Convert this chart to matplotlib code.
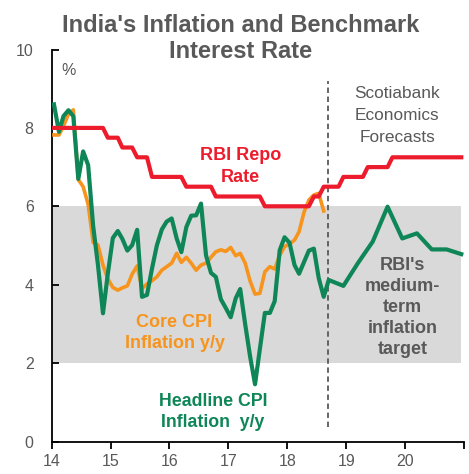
import pandas as pd
import matplotlib
matplotlib.use('Agg')
import matplotlib.pyplot as plt
import matplotlib.dates as mdates

plt.rcParams['font.family'] = ['Liberation Sans', 'DejaVu Sans']

#%% data

# monthly actuals Jan 2014 - Aug 2018, plotted mid-month
months = pd.date_range('2014-01-01', '2018-08-01', freq='MS') + pd.Timedelta(days=14)
# repo rate incl. forecast, monthly to Dec 2020
repo_months = pd.date_range('2014-01-01', '2020-12-01', freq='MS') + pd.Timedelta(days=14)
# quarterly headline forecast Sep 2018 - Dec 2020
fcst_quarters = pd.date_range('2018-09-01', '2020-12-01', freq='3MS') + pd.Timedelta(days=14)
forecast_start = pd.Timestamp('2018-09-10')

headline = [8.6, 7.9, 8.3, 8.45, 8.3, 6.7, 7.4, 7.05, 5.5, 4.5,
            3.27, 4.28, 5.19, 5.37, 5.17, 4.87, 5.01, 5.40, 3.69, 3.74,
            4.41, 5.0, 5.41, 5.61, 5.69, 5.18, 4.83, 5.47, 5.76, 5.77,
            6.07, 4.75, 4.3, 4.2, 3.63, 3.41, 3.17, 3.65, 3.89, 2.99,
            2.18, 1.46, 2.36, 3.28, 3.28, 3.58, 4.88, 5.21, 5.07, 4.5,
            4.28, 4.58, 4.87, 4.92, 4.17, 3.69]
headline_fcst = [4.12, 3.97, 4.55, 5.1, 5.99, 5.18, 5.31, 4.9, 4.9, 4.78]

core = [7.82, 7.82, 8.05, 8.35, 8.46, 6.68, 6.5, 6.05, 5.08, 5.01,
        4.5, 4.15, 3.93, 3.86, 3.92, 3.97, 4.27, 4.48, 3.9, 4.02,
        4.1, 4.2, 4.37, 4.46, 4.55, 4.8, 4.57, 4.7, 4.55, 4.37,
        4.5, 4.55, 4.7, 4.84, 4.89, 4.85, 4.95, 4.74, 4.8, 4.55,
        4.1, 3.76, 3.78, 4.33, 4.46, 4.4, 4.75, 4.97, 5.04, 5.14,
        5.35, 5.85, 6.16, 6.29, 6.33, 5.88]

repo = [8.0, 8.0, 8.0, 8.0, 8.0, 8.0, 8.0, 8.0, 8.0, 8.0,
        8.0, 7.75, 7.75, 7.75, 7.5, 7.5, 7.5, 7.25, 7.25, 7.25,
        6.75, 6.75, 6.75, 6.75, 6.75, 6.75, 6.75, 6.5, 6.5, 6.5,
        6.5, 6.5, 6.5, 6.25, 6.25, 6.25, 6.25, 6.25, 6.25, 6.25,
        6.25, 6.25, 6.25, 6.0, 6.0, 6.0, 6.0, 6.0, 6.0, 6.0,
        6.0, 6.0, 6.0, 6.25, 6.25, 6.5, 6.5, 6.5, 6.5, 6.75,
        6.75, 6.75, 6.75, 6.75, 7.0, 7.0, 7.0, 7.0, 7.0, 7.25,
        7.25, 7.25, 7.25, 7.25, 7.25, 7.25, 7.25, 7.25, 7.25, 7.25,
        7.25, 7.25, 7.25, 7.25]

target_lo, target_hi = 2, 6
target_span = [pd.Timestamp('2014-01-05'), pd.Timestamp('2020-12-15')]

year_ticks = pd.date_range('2014-01-01', '2021-01-01', freq='YS')
year_labels = ['14', '15', '16', '17', '18', '19', '20', '']

#%% plot

RED = '#EC1C2D'
ORANGE = '#F7941D'
GREEN = '#0F8657'
GREY = '#595959'

W, H = 469, 474
fig = plt.figure(figsize=(W / 100, H / 100), dpi=100)
ax = fig.add_axes([51.7 / W, 1 - 441.5 / H, 412.3 / W, 392 / H])

ax.fill_between(target_span, target_lo, target_hi, color='#D9D9D9', lw=0, zorder=1)
ax.vlines(forecast_start, 0.38, 9.2, colors=GREY, lw=1.3, linestyles=(0, (3, 2)), zorder=2)

ax.plot(months, core, color=ORANGE, lw=2.6, zorder=3, solid_joinstyle='round')
ax.plot(list(months) + list(fcst_quarters), headline + headline_fcst,
        color=GREEN, lw=3.0, zorder=4, solid_joinstyle='round')
ax.plot(repo_months, repo, color=RED, lw=3.0, zorder=5, solid_joinstyle='round')

ax.set_ylim(0, 10)
ax.set_xlim(pd.Timestamp('2014-01-01'), pd.Timestamp('2021-01-01'))
ax.set_yticks([0, 2, 4, 6, 8, 10])
ax.set_xticks(year_ticks)
ax.set_xticklabels(year_labels)

for s in ['top', 'right']:
    ax.spines[s].set_visible(False)
for s in ['left', 'bottom']:
    ax.spines[s].set_linewidth(1.3)
ax.tick_params(axis='y', direction='in', length=5, width=1.3, pad=13,
               labelsize=11.5, labelcolor=GREY)
ax.tick_params(axis='x', direction='out', length=5, width=1.3, pad=4,
               labelsize=11.5, labelcolor=GREY)


def label(lines, cx, baselines, **kw):
    # one fig.text per line, positions in pixels from top-left
    for txt, by in zip(lines, baselines):
        fig.text(cx / W, 1 - by / H, txt, va='baseline', **kw)


label(["India's Inflation and Benchmark", 'Interest Rate'], 240.5, [31.7, 58.3],
      ha='center', fontsize=17, fontweight='bold', color=GREY)
label(['%'], 61.7, [75], ha='left', fontsize=11.5, color=GREY)
label(['RBI Repo', 'Rate'], 240.8, [160, 181.7],
      ha='center', fontsize=13, fontweight='bold', color=RED)
label(['Core CPI', 'Inflation y/y'], 174.5, [326.7, 348.3],
      ha='center', fontsize=13, fontweight='bold', color=ORANGE)
label(['Headline CPI', 'Inflation  y/y'], 213, [406, 426.7],
      ha='center', fontsize=12.8, fontweight='bold', color=GREEN)
label(["RBI's", 'medium-', 'term', 'inflation', 'target'], 402.5,
      [270, 291, 312, 333, 354],
      ha='center', fontsize=13, fontweight='bold', color=GREY)
label(['Scotiabank', 'Economics', 'Forecasts'], 397, [98.3, 120, 141.7],
      ha='center', fontsize=12.4, color=GREY)

fig.savefig('out.png', dpi=100)
